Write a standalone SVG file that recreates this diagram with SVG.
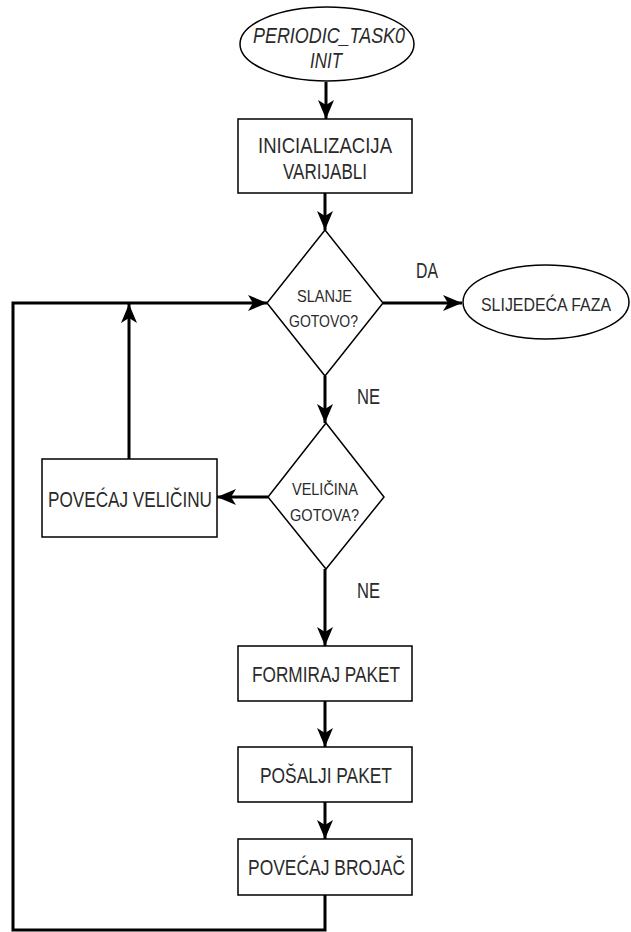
<svg xmlns="http://www.w3.org/2000/svg" width="631" height="932" viewBox="0 0 631 932">
<style>
.shape{fill:#fff;stroke:#000;stroke-width:1.5}
.conn{fill:none;stroke:#000;stroke-width:3}
.t{font-family:"Liberation Sans",Arial,sans-serif;font-size:22px;fill:#2a2a2a;text-anchor:middle}
.s{font-size:16.5px}
.i{font-style:italic}
</style>
<defs>
<marker id="arr" markerUnits="userSpaceOnUse" markerWidth="22" markerHeight="18" refX="19" refY="8" orient="auto">
<path d="M0,0 L19,8 L0,16 L5,8 z" fill="#000"/>
</marker>
</defs>
<rect width="631" height="932" fill="#fff"/>
<g id="connectors">
<path class="conn" d="M326,82 V119" marker-end="url(#arr)"/>
<path class="conn" d="M325,193 V230" marker-end="url(#arr)"/>
<path class="conn" d="M383,303 H462" marker-end="url(#arr)"/>
<path class="conn" d="M325,376 V423" marker-end="url(#arr)"/>
<path class="conn" d="M268,497 H217" marker-end="url(#arr)"/>
<path class="conn" d="M129,459 V304" marker-end="url(#arr)"/>
<path class="conn" d="M325,569 V646" marker-end="url(#arr)"/>
<path class="conn" d="M325,701 V747" marker-end="url(#arr)"/>
<path class="conn" d="M325,802 V839" marker-end="url(#arr)"/>
<path class="conn" d="M325,895 V930 H13 V303 H267" marker-end="url(#arr)"/>
<text class="t" x="427" y="278" textLength="22" lengthAdjust="spacingAndGlyphs">DA</text>
<text class="t" x="368.5" y="404" textLength="23" lengthAdjust="spacingAndGlyphs">NE</text>
<text class="t" x="368.5" y="598" textLength="23" lengthAdjust="spacingAndGlyphs">NE</text>
</g>
<g id="start">
<ellipse class="shape" cx="327" cy="44" rx="87" ry="37"/>
<text class="t i" x="329" y="43" textLength="152" lengthAdjust="spacingAndGlyphs">PERIODIC_TASK0</text>
<text class="t i" x="326" y="68" textLength="32" lengthAdjust="spacingAndGlyphs">INIT</text>
</g>
<g id="init">
<rect class="shape" x="238" y="119" width="174" height="74"/>
<text class="t" x="325" y="153" textLength="134" lengthAdjust="spacingAndGlyphs">INICIALIZACIJA</text>
<text class="t" x="325" y="179" textLength="84" lengthAdjust="spacingAndGlyphs">VARIJABLI</text>
</g>
<g id="slanje">
<polygon class="shape" points="325,230 383,303 325,376 267,303"/>
<text class="t s" x="324.5" y="302" textLength="55" lengthAdjust="spacingAndGlyphs">SLANJE</text>
<text class="t s" x="323.5" y="327" textLength="69" lengthAdjust="spacingAndGlyphs">GOTOVO?</text>
</g>
<g id="sljedeca">
<ellipse class="shape" cx="546" cy="302" rx="83" ry="37"/>
<text class="t" style="font-size:18px" x="546" y="311" textLength="130" lengthAdjust="spacingAndGlyphs">SLIJEDEĆA FAZA</text>
</g>
<g id="velicina">
<polygon class="shape" points="326,423 384,497 326,569 268,497"/>
<text class="t s" x="325" y="495" textLength="66" lengthAdjust="spacingAndGlyphs">VELIČINA</text>
<text class="t s" x="324.5" y="521" textLength="69" lengthAdjust="spacingAndGlyphs">GOTOVA?</text>
</g>
<g id="povecaj-velicinu">
<rect class="shape" x="42" y="459" width="175" height="78"/>
<text class="t" x="130" y="507" textLength="164" lengthAdjust="spacingAndGlyphs">POVEĆAJ VELIČINU</text>
</g>
<g id="formiraj">
<rect class="shape" x="238" y="646" width="174" height="55"/>
<text class="t" x="326" y="682" textLength="148" lengthAdjust="spacingAndGlyphs">FORMIRAJ PAKET</text>
</g>
<g id="posalji">
<rect class="shape" x="238" y="747" width="174" height="55"/>
<text class="t" x="326" y="783" textLength="132" lengthAdjust="spacingAndGlyphs">POŠALJI PAKET</text>
</g>
<g id="brojac">
<rect class="shape" x="238" y="839" width="174" height="56"/>
<text class="t" x="326.5" y="875" textLength="157" lengthAdjust="spacingAndGlyphs">POVEĆAJ BROJAČ</text>
</g>
</svg>
